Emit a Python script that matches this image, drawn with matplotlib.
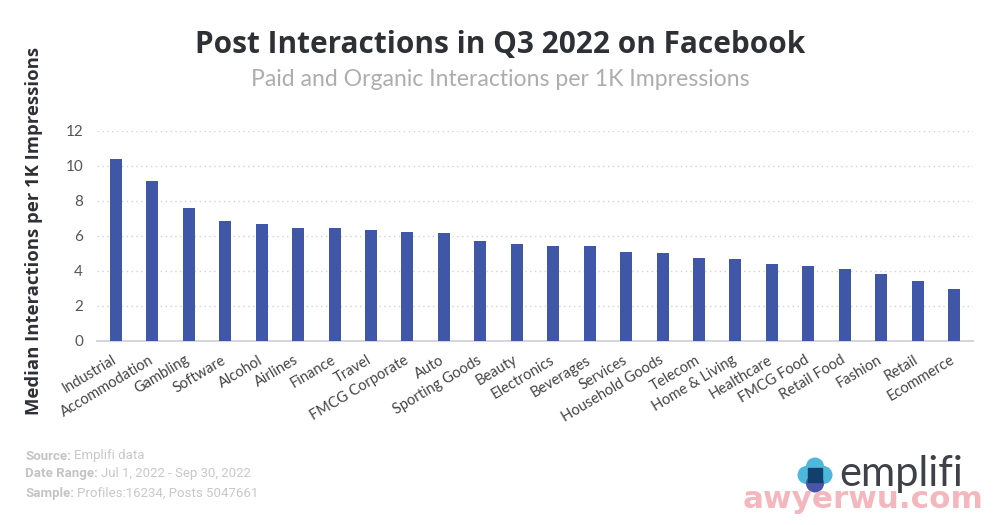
import matplotlib
matplotlib.use('Agg')
import matplotlib.pyplot as plt
from matplotlib.patches import Circle, Rectangle
from matplotlib.transforms import ScaledTranslation

categories = ['Industrial', 'Accommodation', 'Gambling', 'Software', 'Alcohol', 'Airlines',
              'Finance', 'Travel', 'FMCG Corporate', 'Auto', 'Sporting Goods', 'Beauty',
              'Electronics', 'Beverages', 'Services', 'Household Goods', 'Telecom',
              'Home & Living', 'Healthcare', 'FMCG Food', 'Retail Food', 'Fashion',
              'Retail', 'Ecommerce']
values = [10.4, 9.15, 7.6, 6.85, 6.7, 6.47, 6.43, 6.35, 6.2, 6.15, 5.68, 5.5,
          5.42, 5.4, 5.05, 5.0, 4.7, 4.65, 4.4, 4.25, 4.1, 3.8, 3.4, 2.95]
y_ticks = [0, 2, 4, 6, 8, 10, 12]

W, H = 1000, 525
plt.rcParams['font.family'] = ['Lato', 'DejaVu Sans']

fig = plt.figure(figsize=(10, 5.25), dpi=100)
ax = fig.add_axes([97 / W, 1 - 340.5 / H, 876 / W, 209.5 / H])

# Bars and axis
x = range(len(categories))
ax.bar(x, values, width=0.33, color='#3f57a6', zorder=3)
ax.set_xlim(-0.52, 23.52)
ax.set_ylim(0, 12)
ax.set_yticks(y_ticks)
ax.tick_params(axis='y', length=0, labelsize=11, labelcolor='#555555', pad=10)
ax.grid(True, axis='y', color='#d2d2d2', linestyle=(0, (1, 2.5)), linewidth=1)
ax.set_axisbelow(True)
for side in ['top', 'right', 'left']:
    ax.spines[side].set_visible(False)
ax.spines['bottom'].set_color('#d5d5de')
ax.spines['bottom'].set_linewidth(1.5)

ax.set_xticks(list(x))
ax.set_xticklabels(categories, rotation=31, ha='right', rotation_mode='anchor',
                   fontsize=10.5, color='#444444')
ax.tick_params(axis='x', length=0, pad=9)
shift = ScaledTranslation(-4 / 100, 0, fig.dpi_scale_trans)
for lab in ax.get_xticklabels():
    lab.set_transform(lab.get_transform() + shift)


def px_text(px, py, s, **kw):
    return fig.text(px / W, 1 - py / H, s, **kw)


# Titles
px_text(500, 45, 'Post Interactions in Q3 2022 on Facebook', ha='center', va='center',
        fontsize=21.4, fontweight='bold', color='#2f3036', family=['Open Sans', 'DejaVu Sans'])
px_text(500, 80, 'Paid and Organic Interactions per 1K Impressions', ha='center', va='center',
        fontsize=16.6, color='#adadad')
px_text(34, 231, 'Median Interactions per 1K Impressions', ha='center', va='center',
        rotation=90, fontsize=13.3, fontweight='bold', color='#2f3036',
        family=['Open Sans', 'DejaVu Sans'])

# Source notes
notes = [('Source:', 'Emplifi data', 456, 74),
         ('Date Range:', 'Jul 1, 2022 - Sep 30, 2022', 474, 101),
         ('Sample:', 'Profiles:16234, Posts 5047661', 493, 77)]
for label, rest, py, rest_x in notes:
    px_text(25, py, label, ha='left', va='center', fontsize=9.5, fontweight='bold',
            color='#c4c4c4', family=['Roboto', 'DejaVu Sans'])
    px_text(rest_x, py, rest, ha='left', va='center', fontsize=9.5,
            color='#c8c8c8', family=['Roboto', 'DejaVu Sans'])

# Logo drawn in pixel coordinates
logo = fig.add_axes([0, 0, 1, 1], zorder=-1)
logo.set_xlim(0, W)
logo.set_ylim(H, 0)
logo.axis('off')
logo.add_patch(Circle((815, 466.5), 8.3, color='#4db8dc'))
logo.add_patch(Circle((806.5, 475), 8.3, color='#4db8dc'))
logo.add_patch(Circle((823.5, 475), 8.3, color='#4db8dc'))
logo.add_patch(Circle((815, 483.5), 8.3, color='#4a55a8'))
logo.add_patch(Rectangle((808, 468), 14, 14, color='#123f6b'))
px_text(901, 474, 'emplifi', ha='center', va='center', fontsize=30, color='#3e4148')

# Watermark
px_text(863, 499, 'awyerwu.com', ha='center', va='center', fontsize=22.3, fontweight='bold',
        color='#f2a5ad', alpha=0.8, family=['DejaVu Sans'])

fig.savefig('out.png', dpi=100)
